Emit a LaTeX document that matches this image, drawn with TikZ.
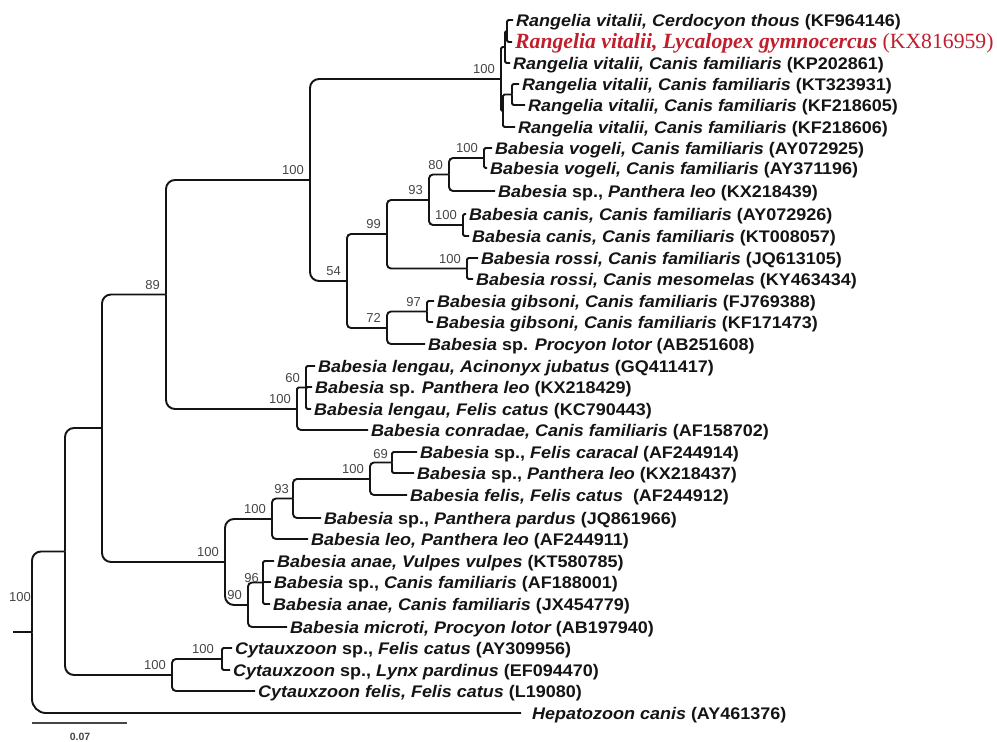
\documentclass[tikz,border=0pt]{standalone}
\usepackage{fontspec}
\newfontfamily\leaffont[FakeStretch=1.07]{Liberation Sans}
\newfontfamily\numfont{Liberation Sans}
\newfontfamily\redfont{Liberation Serif}
\definecolor{redlab}{RGB}{192,30,45}
\definecolor{inkc}{RGB}{20,20,20}
\definecolor{bsgray}{RGB}{70,70,70}
\tikzset{
  br/.style={draw=inkc, line width=1.9pt},
  rl/.style={br, rounded corners=9pt},
  rm/.style={br, rounded corners=4pt},
  rs/.style={br, rounded corners=1.5pt},
  leaf/.style={anchor=west, inner xsep=3pt, inner ysep=0pt, text height=12pt, text depth=0pt, text=inkc,
    font=\leaffont\bfseries\fontsize{16.8}{18}\selectfont},
  redleaf/.style={anchor=west, inner xsep=3pt, inner ysep=0pt, text height=13.5pt, text depth=0pt, text=redlab,
    font=\redfont\fontsize{21.7}{23}\selectfont},
  bs/.style={anchor=south east, inner sep=0pt, text=bsgray, font=\numfont\fontsize{13}{13}\selectfont},
}
\begin{document}
\begin{tikzpicture}[x=1pt,y=-1pt]
\useasboundingbox (0,0) rectangle (997,742);
% leaves
\node[leaf] (l1) at (513,20) {{\itshape Rangelia vitalii, Cerdocyon thous} (KF964146)};
\node[redleaf] (l2) at (512,42) {{\bfseries\itshape Rangelia vitalii, Lycalopex gymnocercus} (KX816959)};
\node[leaf] (l3) at (510,63) {{\itshape Rangelia vitalii, Canis familiaris} (KP202861)};
\node[leaf] (l4) at (519,84) {{\itshape Rangelia vitalii, Canis familiaris} (KT323931)};
\node[leaf] (l5) at (525,105) {{\itshape Rangelia vitalii, Canis familiaris} (KF218605)};
\node[leaf] (l6) at (515,127) {{\itshape Rangelia vitalii, Canis familiaris} (KF218606)};
\node[leaf] (l7) at (492,148) {{\itshape Babesia vogeli, Canis familiaris} (AY072925)};
\node[leaf] (l8) at (487,168) {{\itshape Babesia vogeli, Canis familiaris} (AY371196)};
\node[leaf] (l9) at (495,191) {{\itshape Babesia} sp., {\itshape Panthera leo} (KX218439)};
\node[leaf] (l10) at (466,214) {{\itshape Babesia canis, Canis familiaris} (AY072926)};
\node[leaf] (l11) at (469,236) {{\itshape Babesia canis, Canis familiaris} (KT008057)};
\node[leaf] (l12) at (478,258) {{\itshape Babesia rossi, Canis familiaris} (JQ613105)};
\node[leaf] (l13) at (473,279) {{\itshape Babesia rossi, Canis mesomelas} (KY463434)};
\node[leaf] (l14) at (434,301) {{\itshape Babesia gibsoni, Canis familiaris} (FJ769388)};
\node[leaf] (l15) at (433,322) {{\itshape Babesia gibsoni, Canis familiaris} (KF171473)};
\node[leaf] (l16) at (425,344) {{\itshape Babesia} sp. {\itshape Procyon lotor} (AB251608)};
\node[leaf] (l17) at (315,366) {{\itshape Babesia lengau, Acinonyx jubatus} (GQ411417)};
\node[leaf] (l18) at (312,387) {{\itshape Babesia} sp. {\itshape Panthera leo} (KX218429)};
\node[leaf] (l19) at (311,409) {{\itshape Babesia lengau, Felis catus} (KC790443)};
\node[leaf] (l20) at (368,430) {{\itshape Babesia conradae, Canis familiaris} (AF158702)};
\node[leaf] (l21) at (417,452) {{\itshape Babesia} sp., {\itshape Felis caracal} (AF244914)};
\node[leaf] (l22) at (414,473) {{\itshape Babesia} sp., {\itshape Panthera leo} (KX218437)};
\node[leaf] (l23) at (407,495) {{\itshape Babesia felis, Felis catus}\ \ (AF244912)};
\node[leaf] (l24) at (321,518) {{\itshape Babesia} sp., {\itshape Panthera pardus} (JQ861966)};
\node[leaf] (l25) at (308,539) {{\itshape Babesia leo, Panthera leo} (AF244911)};
\node[leaf] (l26) at (274,561) {{\itshape Babesia anae, Vulpes vulpes} (KT580785)};
\node[leaf] (l27) at (271,582) {{\itshape Babesia} sp., {\itshape Canis familiaris} (AF188001)};
\node[leaf] (l28) at (270,604) {{\itshape Babesia anae, Canis familiaris} (JX454779)};
\node[leaf] (l29) at (287,627) {{\itshape Babesia microti, Procyon lotor} (AB197940)};
\node[leaf] (l30) at (232,648) {{\itshape Cytauxzoon} sp., {\itshape Felis catus} (AY309956)};
\node[leaf] (l31) at (230,670) {{\itshape Cytauxzoon} sp., {\itshape Lynx pardinus} (EF094470)};
\node[leaf] (l32) at (255,691) {{\itshape Cytauxzoon felis, Felis catus} (L19080)};
\node[leaf, inner xsep=11pt] (l33) at (521,713) {{\itshape Hepatozoon canis} (AY461376)};
% internal nodes
\coordinate (a12) at (507,31);
\coordinate (a123) at (505,47);
\coordinate (a45) at (512,94.5);
\coordinate (aX) at (503,111);
\coordinate (R) at (501,79);
\coordinate (vog) at (484,158);
\coordinate (n80) at (449,174.5);
\coordinate (can) at (463,225);
\coordinate (n93) at (429,200);
\coordinate (ros) at (467,268.5);
\coordinate (n99) at (387,234);
\coordinate (gib) at (427,311.5);
\coordinate (n72) at (387,328);
\coordinate (n54) at (347,281);
\coordinate (nA) at (310,180);
\coordinate (len60) at (306,387.5);
\coordinate (len100) at (297,409);
\coordinate (n89) at (166,294.5);
\coordinate (E69) at (392,462.5);
\coordinate (D100) at (370,479);
\coordinate (C93) at (293,498.5);
\coordinate (A100) at (272,519);
\coordinate (F96) at (263,582.5);
\coordinate (B90) at (248,605);
\coordinate (L100) at (225,562);
\coordinate (N) at (102,428);
\coordinate (cs) at (222,659);
\coordinate (cyt) at (172,675);
\coordinate (I) at (65,551.5);
\coordinate (root) at (32,632.25);
\coordinate (stem) at (13,632.25);
% connectors
\draw[rs] (a12) |- (l1.west); \draw[rs] (a12) |- (l2.west);
\draw[rs] (a123) |- (a12); \draw[rs] (a123) |- (l3.west);
\draw[rs] (a45) |- (l4.west); \draw[rs] (a45) |- (l5.west);
\draw[rs] (aX) |- (a45); \draw[rs] (aX) |- (l6.west);
\draw[rs] (R) |- (a123); \draw[rs] (R) |- (aX);
\draw[rs] (vog) |- (l7.west); \draw[rs] (vog) |- (l8.west);
\draw[rm] (n80) |- (vog); \draw[rm] (n80) |- (l9.west);
\draw[rs] (can) |- (l10.west); \draw[rs] (can) |- (l11.west);
\draw[rm] (n93) |- (n80); \draw[rm] (n93) |- (can);
\draw[rs] (ros) |- (l12.west); \draw[rs] (ros) |- (l13.west);
\draw[rm] (n99) |- (n93); \draw[rm] (n99) |- (ros);
\draw[rs] (gib) |- (l14.west); \draw[rs] (gib) |- (l15.west);
\draw[rm] (n72) |- (gib); \draw[rm] (n72) |- (l16.west);
\draw[rm] (n54) |- (n99); \draw[rm] (n54) |- (n72);
\draw[rl] (nA) |- (R); \draw[rl] (nA) |- (n54);
\draw[rs] (len60) |- (l17.west); \draw[rs] (len60) |- (l18.west); \draw[rs] (len60) |- (l19.west);
\draw[rs] (len100) |- (len60); \draw[rm] (len100) |- (l20.west);
\draw[rl] (n89) |- (nA); \draw[rl] (n89) |- (len100);
\draw[rs] (E69) |- (l21.west); \draw[rs] (E69) |- (l22.west);
\draw[rm] (D100) |- (E69); \draw[rm] (D100) |- (l23.west);
\draw[rm] (C93) |- (D100); \draw[rm] (C93) |- (l24.west);
\draw[rm] (A100) |- (C93); \draw[rm] (A100) |- (l25.west);
\draw[rs] (F96) |- (l26.west); \draw[br] (F96) |- (l27.west); \draw[rs] (F96) |- (l28.west);
\draw[rm] (B90) |- (F96); \draw[rm] (B90) |- (l29.west);
\draw[rl] (L100) |- (A100); \draw[rl] (L100) |- (B90);
\draw[rl] (N) |- (n89); \draw[rl] (N) |- (L100);
\draw[rs] (cs) |- (l30.west); \draw[rs] (cs) |- (l31.west);
\draw[rm] (cyt) |- (cs); \draw[rm] (cyt) |- (l32.west);
\draw[rl] (I) |- (N); \draw[rl] (I) |- (cyt);
\draw[rl] (root) |- (I); \draw[br, rounded corners=14pt] (root) |- (l33.west);
\draw[br] (stem) -- (root);
% bootstrap values
\node[bs] (bR) at ([xshift=-6pt,yshift=5pt]R) {100};
\node[bs] (bvog) at ([xshift=-6pt,yshift=5pt]vog) {100};
\node[bs] (b80) at ([xshift=-6pt,yshift=5pt]n80) {80};
\node[bs] (b93) at ([xshift=-6pt,yshift=5pt]n93) {93};
\node[bs] (bcan) at ([xshift=-6pt,yshift=5pt]can) {100};
\node[bs] (b99) at ([xshift=-6pt,yshift=5pt]n99) {99};
\node[bs] (bros) at ([xshift=-6pt,yshift=5pt]ros) {100};
\node[bs] (b54) at ([xshift=-6pt,yshift=5pt]n54) {54};
\node[bs] (b97) at ([xshift=-6pt,yshift=5pt]gib) {97};
\node[bs] (b72) at ([xshift=-6pt,yshift=5pt]n72) {72};
\node[bs] (bA) at ([xshift=-6pt,yshift=5pt]nA) {100};
\node[bs] (b89) at ([xshift=-6pt,yshift=5pt]n89) {89};
\node[bs] (b60) at ([xshift=-6pt,yshift=5pt]len60) {60};
\node[bs] (blen) at ([xshift=-6pt,yshift=5pt]len100) {100};
\node[bs] (b69) at ([xshift=-4pt,yshift=4pt]E69) {69};
\node[bs] (bD) at ([xshift=-6pt,yshift=5pt]D100) {100};
\node[bs] (bC) at ([xshift=-4pt,yshift=5pt]C93) {93};
\node[bs] (bAA) at ([xshift=-6pt,yshift=5pt]A100) {100};
\node[bs] (b96) at ([xshift=-4pt,yshift=0pt]F96) {96};
\node[bs] (b90) at ([xshift=-6pt,yshift=5pt]B90) {90};
\node[bs] (bL) at ([xshift=-6pt,yshift=5pt]L100) {100};
\node[bs] (bcs) at ([xshift=-8pt,yshift=5pt]cs) {100};
\node[bs] (bcyt) at ([xshift=-6pt,yshift=5pt]cyt) {100};
\node[bs, anchor=center] (bI) at (20,597) {100};
% scale bar
\coordinate (sb1) at (32,723);
\coordinate (sb2) at (127,723);
\draw[draw=bsgray, line width=1.2pt] (sb1) -- (sb2);
\node[inner sep=0pt, text=bsgray, font=\numfont\bfseries\fontsize{10.5}{11}\selectfont] (sbl) at (80,737) {0.07};
\end{tikzpicture}
\end{document}
